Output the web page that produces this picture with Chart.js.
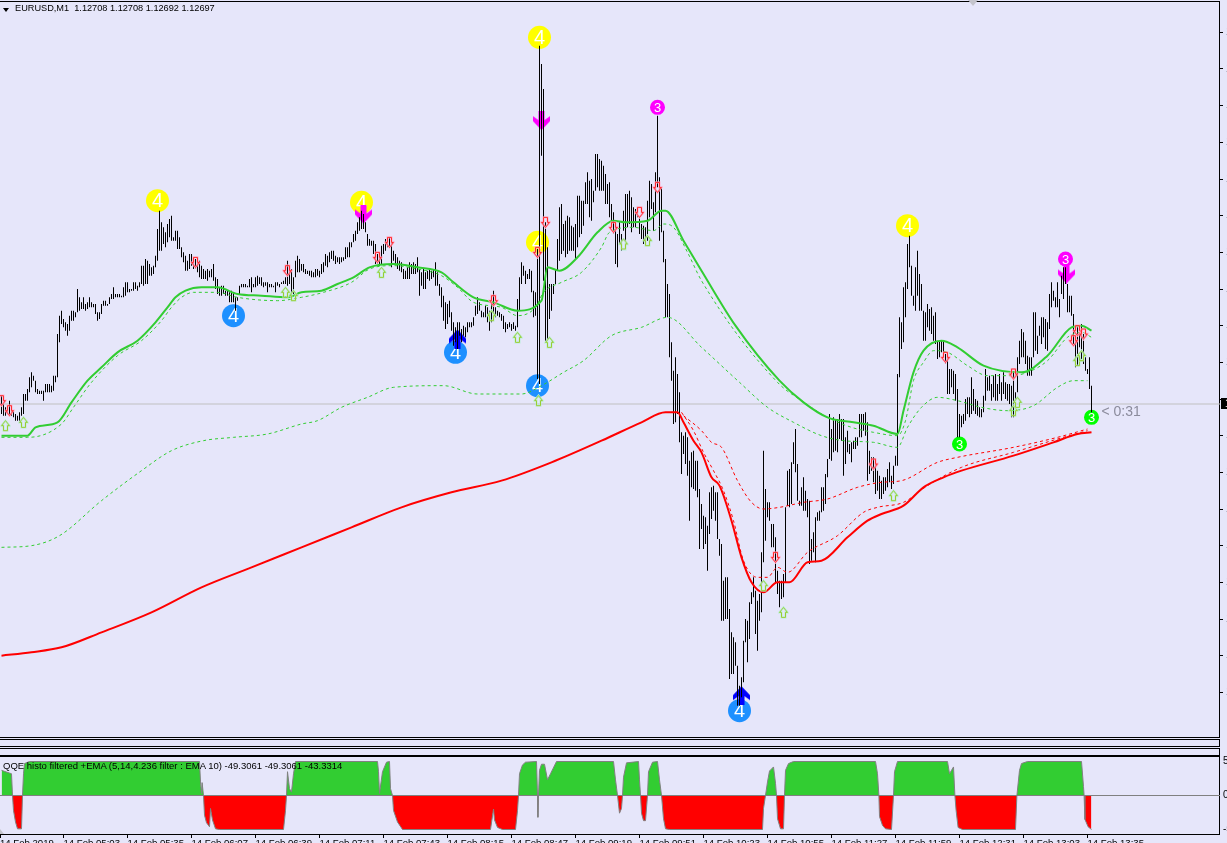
<!DOCTYPE html>
<html>
<head>
<meta charset="utf-8">
<title>EURUSD,M1</title>
<script src="https://cdn.jsdelivr.net/npm/chart.js@4/dist/chart.umd.min.js"></script>
<style>
html, body { margin: 0; padding: 0; background: #E6E6FA; overflow: hidden; }
#page { position: relative; width: 1227px; height: 843px; overflow: hidden; }
canvas { position: absolute; left: 0; }
#mainChart { top: 0; }
#qqeChart { top: 756px; }
.pane { position: absolute; left: -2px; width: 1220px; border: 1px solid #000; }
.caption { position: absolute; font: 9.5px "Liberation Sans", sans-serif; color: #000; white-space: pre; z-index: 2; }
.tri { position: absolute; width: 0; height: 0; }
</style>
</head>
<body>
<div id="page">
  <div class="pane" style="top:1px;height:735px"></div>
  <div class="pane" style="top:739px;height:6px"></div>
  <div class="pane" style="top:748px;height:6px"></div>
  <div class="pane" style="top:756px;height:77px"></div>
  <div class="tri" style="left:3px;top:8px;border-left:3px solid transparent;border-right:3px solid transparent;border-top:4px solid #000"></div>
  <div class="tri" style="left:968px;top:0;border-left:5px solid transparent;border-right:5px solid transparent;border-top:6px solid #c4c4cc"></div>
  <div class="tri" style="left:0;top:829px;border-bottom:5px solid #c4c4cc;border-right:4px solid transparent"></div>
  <canvas id="mainChart" width="1227" height="737"></canvas>
  <canvas id="qqeChart" width="1227" height="87"></canvas>
  <div class="caption" style="left:15px;top:3px;font-size:9.2px">EURUSD,M1  1.12708 1.12708 1.12692 1.12697</div>
  <div class="caption" style="left:3px;top:760px">QQE histo filtered +EMA (5,14,4.236 filter : EMA 10) -49.3061 -49.3061 -43.3314</div>
</div>
<script>
// prices are kept as points above 1.12000, one bar per minute
const highs = [
702,697,695,695,699,696,693,691,690,692,
695,703,703,706,713,716,714,711,706,705,
705,705,709,709,709,708,714,714,739,750,
753,748,746,745,750,753,753,752,766,761,
758,761,757,758,761,758,757,757,752,752,
757,759,759,757,761,763,767,763,763,763,
762,767,770,770,766,766,770,770,768,770,
780,780,784,783,781,779,780,786,802,813,
806,803,800,805,808,810,797,801,801,797,
791,788,786,783,787,787,784,784,783,783,
780,778,777,778,777,778,781,773,772,767,
768,768,765,765,764,765,764,761,761,768,
769,769,769,768,772,773,769,773,774,773,
773,770,770,770,769,769,768,770,770,769,
770,771,773,783,778,778,773,783,786,784,
781,781,778,777,777,777,776,778,778,777,
781,782,787,786,788,789,789,786,785,785,
785,785,791,791,794,794,799,801,806,809,
813,811,806,799,796,795,795,793,787,787,
792,793,796,796,797,797,789,787,785,783,
782,778,777,779,782,781,782,781,785,778,
776,778,776,777,778,777,778,782,776,769,
767,762,758,757,759,752,746,743,746,746,
742,744,743,746,746,746,749,756,761,758,
753,752,756,755,753,762,765,755,753,752,
751,750,746,745,746,745,746,744,760,773,
782,780,777,775,778,777,765,764,790,912,
901,886,806,791,769,769,769,778,796,815,
817,805,807,810,809,804,803,805,822,822,
819,819,830,836,831,832,825,847,847,844,
843,840,835,829,830,817,812,803,799,806,
799,813,823,823,825,821,815,814,815,809,
805,804,803,819,831,829,818,836,870,833,
827,801,784,769,763,734,717,725,715,704,
680,678,680,677,663,668,669,663,663,646,
637,630,629,624,644,647,648,644,644,616,
613,591,593,593,574,560,557,554,540,528,
533,555,568,567,578,584,593,585,579,583,
608,669,646,638,638,625,625,617,597,591,
591,595,635,657,658,662,674,682,661,639,
647,653,645,640,639,616,620,629,632,633,
647,647,655,664,691,682,689,688,688,691,
688,688,677,681,673,674,675,677,677,691,
691,691,692,686,669,665,665,661,657,654,
651,653,653,658,662,654,660,666,715,749,
746,767,770,793,798,780,762,779,789,775,
769,753,752,757,754,755,750,752,735,735,
735,735,727,726,718,718,717,715,706,691,
690,691,700,701,701,713,706,700,699,695,
694,702,718,713,714,709,714,715,709,715,
710,716,710,709,709,708,716,704,725,735,
742,740,735,726,725,725,752,752,738,744,
749,749,748,746,763,770,765,761,770,760,
774,779,779,769,762,762,751,738,743,739,
745,739,725,718,725,708];
const lows = [
691,690,690,691,690,690,689,687,687,687,
690,691,699,699,704,707,711,704,703,703,
703,699,704,704,704,704,705,710,713,734,
745,743,741,738,741,747,747,749,752,753,
754,754,753,754,755,755,755,751,747,748,
751,756,756,756,757,760,760,761,761,761,
761,761,762,764,764,765,765,766,765,767,
769,768,769,769,774,774,775,779,783,789,
789,793,791,794,797,795,795,795,790,790,
785,782,777,777,778,780,778,778,776,773,
772,772,772,771,773,773,771,766,763,762,
762,763,762,762,758,758,758,753,759,763,
767,767,767,767,767,764,767,767,768,769,
768,767,768,764,767,767,767,764,768,767,
769,769,769,768,769,762,763,773,776,776,
777,776,775,775,774,773,773,773,774,773,
775,776,780,779,782,784,783,781,782,781,
782,783,784,785,785,791,794,795,799,801,
802,802,800,792,792,792,787,781,781,780,
781,787,789,791,791,779,783,781,778,777,
776,772,772,772,772,775,775,775,776,762,
768,766,766,772,771,772,773,768,768,762,
755,747,742,745,749,741,732,734,730,738,
734,738,737,740,743,743,744,750,751,753,
749,749,749,746,741,746,751,749,750,749,
747,742,740,742,743,741,742,741,743,753,
769,774,769,772,772,764,749,750,712,709,
846,771,735,735,748,753,763,769,777,783,
787,789,785,787,789,789,789,784,791,797,
799,804,817,817,809,807,818,825,827,825,
825,825,817,817,809,807,799,781,779,793,
789,801,795,803,805,800,803,803,809,799,
796,793,795,795,809,814,801,812,827,795,
800,782,749,749,725,711,685,686,691,674,
655,667,661,654,627,647,646,645,641,610,
622,610,613,597,619,628,633,627,616,606,
567,567,568,568,532,535,535,540,516,516,
521,530,554,542,556,577,581,559,549,567,
572,602,615,629,627,611,611,589,583,575,
580,581,590,636,635,637,661,656,639,636,
636,633,633,629,601,603,608,602,627,627,
632,633,637,653,664,663,668,669,668,676,
675,654,661,668,667,662,670,670,672,677,
677,681,678,651,655,657,650,643,645,640,
640,643,645,647,650,646,649,660,660,713,
730,734,749,766,779,762,756,753,762,753,
753,735,735,743,741,739,735,733,724,725,
728,725,721,703,703,707,703,699,677,677,
683,685,687,691,689,691,693,691,690,689,
689,692,699,705,705,699,701,699,699,703,
699,703,700,699,697,689,689,699,704,721,
725,725,721,714,714,714,725,729,727,738,
733,737,730,729,742,755,759,755,755,749,
763,760,769,752,752,750,733,719,720,731,
724,721,717,715,706,692];

const greenBars = [0,13,17,28,35,43,50,58,68,77,83,87,92,100,108,118,130,143,150,160,168,176,184,196,208,220,226,236,246,258,270,273,279,288,298,306,312,323,330,332,341,350,367,389,401,413,426,436,448,451,456,461,470,478,491,510,523,535,540,545];
const greenVals = [678,678,683,686,698,711,719,728,735,746,755,761,765,767,767,763,762,761,764,765,769,773,779,781,779,776,770,761,758,753,759,779,777,785,800,807,806,807,813,813,795,777,744,711,698,689,686,684,679,693,716,729,735,731,720,716,726,743,744,741];
const greenNearBars = [0,13,30,36,45,58,70,80,85,90,96,108,118,138,150,161,175,184,196,208,220,228,236,250,258,267,271,280,290,300,304,316,326,331,336,343,350,388,400,413,425,436,448,452,456,461,466,473,483,493,505,513,523,533,540,545];
const greenNearVals = [677,677,685,695,710,726,735,747,755,761,764,764,761,759,761,764,770,778,780,778,774,767,758,755,750,755,764,770,776,791,800,803,801,805,803,788,771,710,699,689,683,680,678,687,711,722,729,728,720,714,714,716,723,737,740,737];
const greenFarBars = [0,15,29,50,70,85,101,116,133,150,158,170,183,196,221,238,260,270,281,291,305,320,333,350,369,383,396,410,421,436,448,453,460,468,478,490,503,516,528,536,543];
const greenFarVals = [611,612,618,639,657,669,675,677,679,685,687,695,701,707,708,703,703,708,716,723,738,743,749,731,710,695,686,678,675,674,671,683,695,701,699,695,693,696,707,711,711];
const redBars = [0,15,30,50,75,100,125,150,175,200,225,250,275,300,320,332,338,341,346,350,355,359,365,370,375,381,388,394,403,410,423,433,440,451,461,471,480,506,526,538,545];
const redVals = [546,548,551,560,572,587,599,611,623,635,644,651,662,675,686,692,692,686,675,668,653,648,627,605,590,584,590,590,602,603,617,627,631,636,647,653,657,666,674,679,680];
const redNearBars = [340,346,351,356,361,366,371,378,383,388,393,403,418,431,438,451,463,480,506,528,543];
const redNearVals = [692,681,668,657,645,627,603,593,593,599,596,608,618,632,635,638,648,659,668,676,681];
const redFarBars = [341,350,355,360,368,375,381,389,401,413,428,440,450,468,478,506,528,543];
const redFarVals = [690,681,674,671,651,638,634,635,638,640,647,650,651,662,665,671,677,682];

const yellowBars = [78,180,269,268,453];
const yellowVals = [819,818,917,794,804];
const blueBars = [116,227,369,268];
const blueVals = [750,728,513,708];
const magentaBars = [328,532];
const magentaVals = [875,784];
const limeBars = [479,545];
const limeVals = [673,689];
const sellBars = [181,270,532.5];
const sellVals = [811,867,775];
const buyBars = [228,370];
const buyVals = [736,522];
const downBars = [0,4,97,143,188,194,246,268,272,306,319,328,387,436,472,506,536,538,541];
const downVals = [699,693,782,777,785,794,759,788,806,803,812,827,605,661,725,715,735,741,739];
const upBars = [2,11,142,146,190,245,258,268.5,274,311,323,381,391,446,506,508,538,540];
const upVals = [684,686,764,762,776,750,737,699,734,793,795,588,572,642,693,698,723,726];

const bidPoints = 697;
const priceTicks = [524,546,568,590,612,634,656,678,700,722,744,766,788,810,832,854,876,898,920];

const qqeBars = [0,5,5.5,6,7,8,10,10.5,11,11.5,14,99,99.5,100,100.3,100.5,101,101.5,102.5,104,104.5,105.5,107,109,141,142,142.5,143,144,145,146,147,188,188.5,189,190.5,192.5,194,194.5,195.5,196,198,200.5,
  244.5,246,246.5,248,250.5,257,258,258.5,259,260.5,262,267.5,268,268.2,268.5,269,270,271.5,273,274.5,277.5,306,307,308,309,310,310.5,311,312.5,318.5,319,319.5,320,321,322,323,323.5,325.5,328,329,330,331,332,334,380.5,381,382,383,384,386,387,387.5,388,389.5,391,391.5,392,393.5,396,
  437,438,438.7,439,440.5,442,445,446,446.5,448,473,474,476,476.7,477.3,478.3,480.5,507,507.7,509,510,513,540,541,541.3,541.7,543.3,545];
const qqeVals = [37,32,0,-22,-39,-49,-49,0,32,47,50,50,20,3,19,19,0,-29,-40,-46,-19,-36,-49,-50,-50,-22,0,35,10,5,32,50,50,35,3,35,49,50,10,0,-22,-39,-50,
  -50,-20,-36,-47,-50,-50,-22,0,32,45,49,50,0,-32,0,37,46,46,23,32,50,50,23,0,-26,-19,0,27,48,50,23,0,-26,-37,-37,0,35,49,50,23,0,-34,-49,-50,-50,-19,0,20,36,42,18,0,-34,-49,-49,0,37,47,50,
  50,32,0,-31,-44,-49,-50,0,35,50,50,32,42,0,-22,-47,-50,-50,0,37,47,50,50,13,0,-35,-46,-50];
const qqeTicks = [50,0,-50];

const timeBars = [-0.75,31,63,95,127,159,191,223,255,287,319,351,383,415,447,479,511,543];
const timeLabels = ["14 Feb 2019","14 Feb 05:03","14 Feb 05:35","14 Feb 06:07","14 Feb 06:39","14 Feb 07:11","14 Feb 07:43","14 Feb 08:15","14 Feb 08:47","14 Feb 09:19","14 Feb 09:51","14 Feb 10:23","14 Feb 10:55","14 Feb 11:27","14 Feb 11:59","14 Feb 12:31","14 Feb 13:03","14 Feb 13:35"];

const BARS_MIN = -0.75, BARS_MAX = 609.25;
const MONO = '"Liberation Sans", sans-serif';

function pts(xs, ys) {
    return xs.map((x, i) => ({x: x, y: ys[i]}));
}

// keep the plot area right up against the canvas edges
function noPadding(s) {
    s.paddingLeft = 0; s.paddingRight = 0; s.paddingTop = 0; s.paddingBottom = 0;
}

function lineSet(xs, ys, color, width, dash, order) {
    return {type: 'line', data: pts(xs, ys), borderColor: color, borderWidth: width, borderDash: dash,
        pointRadius: 0, cubicInterpolationMode: 'monotone', fill: false, order: order};
}

function circleSet(xs, ys, color, radius, numeral, fontSize) {
    return {type: 'scatter', data: pts(xs, ys), backgroundColor: color, borderWidth: 0, pointRadius: radius,
        pointStyle: 'circle', numeral: numeral, fontSize: fontSize, order: 20};
}

function iconSet(xs, ys, icon, order) {
    return {type: 'scatter', data: pts(xs, ys), pointStyle: icon, pointRadius: 6, order: order};
}

// little canvases for the arrow point styles
function thickArrow(color, flip) {
    const c = document.createElement('canvas');
    c.width = 17; c.height = 19;
    const g = c.getContext('2d');
    if (flip) { g.translate(0, 19); g.scale(1, -1); }
    g.fillStyle = color;
    g.beginPath();
    [[5.5,0],[11.5,0],[11.5,9],[17,5],[17,10],[8.5,19],[0,10],[0,5],[5.5,9]].forEach(p => g.lineTo(p[0], p[1]));
    g.closePath();
    g.fill();
    return c;
}

function hollowArrow(outer, inner, flip) {
    const c = document.createElement('canvas');
    c.width = 11; c.height = 13;
    const g = c.getContext('2d');
    if (flip) { g.translate(0, 13); g.scale(1, -1); }
    const outline = () => {
        g.beginPath();
        [[3.5,1.5],[7.5,1.5],[7.5,6.5],[9.5,6.5],[5.5,11.5],[1.5,6.5],[3.5,6.5]].forEach(p => g.lineTo(p[0], p[1]));
        g.closePath();
    };
    g.lineWidth = 2; g.strokeStyle = inner; outline(); g.stroke();
    g.lineWidth = 1; g.strokeStyle = outer; outline(); g.stroke();
    return c;
}

// numerals on the signal circles, price box and countdown
const overlayPlugin = {
    id: 'overlay',
    afterDatasetDraw(chart, args) {
        const ds = chart.data.datasets[args.index];
        if (!ds.numeral) return;
        const g = chart.ctx;
        g.save();
        g.fillStyle = '#fff';
        g.font = ds.fontSize + 'px ' + MONO;
        g.textAlign = 'center';
        g.textBaseline = 'middle';
        args.meta.data.forEach(el => g.fillText(ds.numeral, el.x, el.y + 1));
        g.restore();
    },
    afterDraw(chart) {
        const g = chart.ctx;
        const y = chart.scales.y.getPixelForValue(bidPoints);
        const x = chart.scales.x.getPixelForValue(545);
        g.save();
        g.fillStyle = '#000';
        g.fillRect(1221, y - 6, 6, 11);
        g.fillStyle = '#fff';
        g.font = '10px ' + MONO;
        g.textBaseline = 'middle';
        g.fillText('1.12697', 1225, y);
        g.fillStyle = '#8b8b9c';
        g.font = '14px ' + MONO;
        g.fillText('< 0:31', x + 10, y + 8);
        g.restore();
    }
};

const mainDatasets = [
    lineSet([BARS_MIN, BARS_MAX], [bidPoints, bidPoints], '#C0C0C0', 1, [], 30),
    circleSet(yellowBars, yellowVals, '#FFFF00', 11.5, '4', 20),
    circleSet(blueBars, blueVals, '#1E90FF', 11.5, '4', 20),
    circleSet(magentaBars, magentaVals, '#FF00FF', 7.5, '3', 13),
    circleSet(limeBars, limeVals, '#00FF00', 7.5, '3', 13),
    iconSet(sellBars, sellVals, thickArrow('#FF00FF', false), 19),
    iconSet(buyBars, buyVals, thickArrow('#0000FF', true), 19),
    {type: 'bar', data: highs.map((h, i) => ({x: i, y: [lows[i], h]})), backgroundColor: '#000', borderWidth: 0,
        barThickness: 1, inflateAmount: 0, order: 10},
    lineSet(greenFarBars, greenFarVals, '#32CD32', 1, [3, 3], 8),
    lineSet(greenNearBars, greenNearVals, '#32CD32', 1, [3, 3], 8),
    lineSet(redFarBars, redFarVals, '#FF0000', 1, [3, 3], 8),
    lineSet(redNearBars, redNearVals, '#FF0000', 1, [3, 3], 8),
    lineSet(greenBars, greenVals, '#32CD32', 2, [], 6),
    lineSet(redBars, redVals, '#FF0000', 2, [], 6),
    iconSet(downBars, downVals, hollowArrow('#FF2A2A', '#FFB0D0', false), 4),
    iconSet(upBars, upVals, hollowArrow('#9ACD32', '#B8F0D8', true), 4)
];

new Chart(document.getElementById('mainChart'), {
    type: 'bar',
    data: {datasets: mainDatasets},
    plugins: [overlayPlugin],
    options: {
        responsive: false,
        animation: false,
        devicePixelRatio: 1,
        events: [],
        layout: {padding: 0, autoPadding: false},
        plugins: {legend: {display: false}, tooltip: {enabled: false}},
        scales: {
            x: {type: 'linear', display: false, offset: false, min: BARS_MIN, max: BARS_MAX, afterFit: noPadding},
            y: {
                type: 'linear',
                position: 'right',
                min: 497.2,
                max: 939.4,
                afterFit: s => { s.width = 7; noPadding(s); },
                afterBuildTicks: s => { s.ticks = priceTicks.map(v => ({value: v})); },
                border: {display: false},
                grid: {drawOnChartArea: false, tickLength: 3, color: '#000'},
                ticks: {
                    color: '#000',
                    padding: 3,
                    autoSkip: false,
                    font: {family: MONO, size: 10},
                    callback: v => (1.12 + v / 100000).toFixed(5)
                }
            }
        }
    }
});

new Chart(document.getElementById('qqeChart'), {
    type: 'line',
    data: {datasets: [
        {data: pts([BARS_MIN, BARS_MAX], [0, 0]), borderColor: '#808080', borderWidth: 1, pointRadius: 0, order: 1},
        {data: pts(qqeBars, qqeVals), borderColor: '#808080', borderWidth: 1, pointRadius: 0, tension: 0, order: 2,
            fill: {target: {value: 0}, above: '#32CD32', below: '#FF0000'}}
    ]},
    options: {
        responsive: false,
        animation: false,
        devicePixelRatio: 1,
        events: [],
        layout: {padding: 0, autoPadding: false},
        plugins: {legend: {display: false}, tooltip: {enabled: false}},
        scales: {
            x: {
                type: 'linear',
                offset: false,
                min: BARS_MIN,
                max: BARS_MAX,
                afterFit: s => { s.height = 9; noPadding(s); },
                afterBuildTicks: s => { s.ticks = timeBars.map(v => ({value: v})); },
                border: {display: false},
                grid: {drawOnChartArea: false, tickLength: 4, color: '#000'},
                ticks: {
                    color: '#000',
                    padding: 0,
                    align: 'start',
                    autoSkip: false,
                    maxRotation: 0,
                    font: {family: MONO, size: 9.6},
                    callback: (v, i) => timeLabels[i]
                }
            },
            y: {
                type: 'linear',
                position: 'right',
                min: -56.6,
                max: 58.1,
                afterFit: s => { s.width = 7; noPadding(s); },
                afterBuildTicks: s => { s.ticks = qqeTicks.map(v => ({value: v})); },
                border: {display: false},
                grid: {drawOnChartArea: false, drawTicks: false},
                ticks: {color: '#000', padding: 3, autoSkip: false, font: {family: MONO, size: 10}}
            }
        }
    }
});
</script>
</body>
</html>
